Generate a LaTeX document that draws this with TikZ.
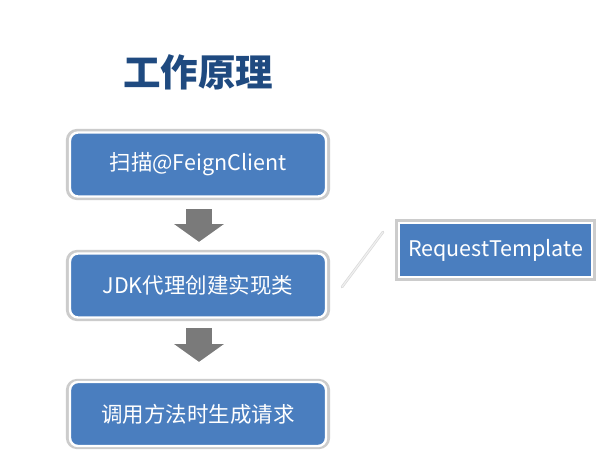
\documentclass[tikz,border=0pt]{standalone}
\usepackage{fontspec}
\setmainfont{Noto Sans CJK SC}
\usetikzlibrary{positioning}
\definecolor{boxblue}{HTML}{4A7EBF}
\definecolor{titleblue}{HTML}{1F4A80}
\definecolor{arrowgray}{HTML}{7A7A7A}
\tikzset{
  glow/.style={draw=black!20, line width=4.2pt},
  stepbox/.style={rectangle, rounded corners=8pt, fill=boxblue, draw=white, line width=2.4pt,
    minimum width=256pt, minimum height=64pt, text=white, font=\fontsize{21.5}{25}\selectfont, inner sep=0pt},
  tmplbox/.style={rectangle, fill=boxblue, draw=white, line width=2pt,
    minimum width=193pt, minimum height=54pt, text=white, font=\fontsize{21.5}{25}\selectfont, inner sep=0pt},
  blockarrow/.style={fill=arrowgray, draw=white, line width=1.6pt, line join=miter},
}
\begin{document}
\begin{tikzpicture}[x=1pt,y=-1pt]
\useasboundingbox (0,0) rectangle (601,450);
\fill[white] (0,0) rectangle (601,450);
% title
\node[font=\fontsize{37.5}{42}\selectfont\bfseries, text=titleblue] (title) at (198,72) {工作原理};
% glows
\draw[glow, rounded corners=9pt] (68,131) rectangle (328,198);
\draw[glow, rounded corners=9pt] (68,252) rectangle (328,319);
\draw[glow, rounded corners=9pt] (68,381) rectangle (328,447);
\draw[draw=black!20, line width=3.6pt] (397,221) rectangle (594,279);
% boxes
\node[stepbox] (b1) at (198,164.5) {扫描@FeignClient};
\node[stepbox] (b2) at (198,285.5) {JDK代理创建实现类};
\node[stepbox] (b3) at (198,414) {调用方法时生成请求};
\node[tmplbox] (rt) at (495.5,250) {RequestTemplate};
% block arrows
\draw[blockarrow] (185,208) -- (213,208) -- (213,223) -- (227,223) -- (199,243) -- (171,223) -- (185,223) -- cycle;
\draw[blockarrow] (185,327) -- (213,327) -- (213,343) -- (227,343) -- (199,363) -- (171,343) -- (185,343) -- cycle;
% diagonal line
\coordinate (l1) at (342,287);
\coordinate (l2) at (383,232);
\draw[black!15, line width=2.6pt, line cap=round] (l1) -- (l2);
\draw[black!6, line width=1.2pt, line cap=round] (l1) -- (l2);
\end{tikzpicture}
\end{document}
